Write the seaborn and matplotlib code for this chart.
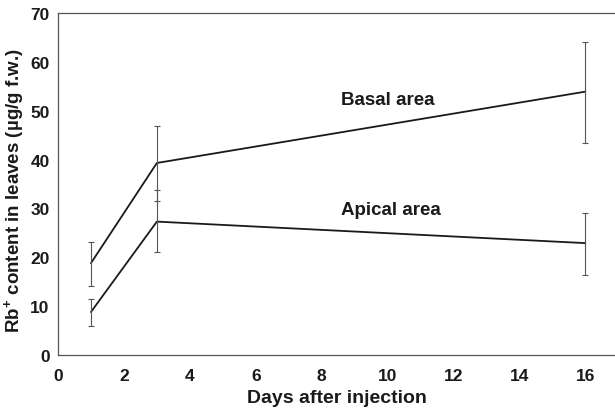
import numpy as np
import pandas as pd
import seaborn as sns
import matplotlib
matplotlib.use("Agg")
import matplotlib.pyplot as plt

# values
days = [1, 3, 16]
basal_mean = [18.8, 39.3, 53.9]
basal_low = [14.1, 31.6, 43.3]
basal_high = [23.2, 46.8, 64.0]
apical_mean = [8.8, 27.3, 22.9]
apical_low = [5.9, 21.1, 16.4]
apical_high = [11.5, 33.7, 29.1]

x_ticks = [0, 2, 4, 6, 8, 10, 12, 14, 16]
y_ticks = [0, 10, 20, 30, 40, 50, 60, 70]

sns.set_style("white")
plt.rcParams["font.family"] = ["Liberation Sans", "DejaVu Sans"]
plt.rcParams["mathtext.fontset"] = "custom"
plt.rcParams["mathtext.rm"] = "Liberation Sans"
plt.rcParams["mathtext.bf"] = "Liberation Sans:bold"

df = pd.DataFrame({
    "day": days * 2,
    "value": basal_mean + apical_mean,
    "area": ["Basal area"] * 3 + ["Apical area"] * 3,
})

fig = plt.figure(figsize=(6.15, 4.1), dpi=100)
ax = fig.add_axes([0.0943, 0.1317, 0.9057, 0.8342])

sns.lineplot(data=df, x="day", y="value", units="area", estimator=None,
             color="#1a1a1a", linewidth=1.3, ax=ax, legend=False)

for mean, low, high in [(basal_mean, basal_low, basal_high),
                        (apical_mean, apical_low, apical_high)]:
    mean = np.array(mean)
    yerr = [mean - np.array(low), np.array(high) - mean]
    ax.errorbar(days, mean, yerr=yerr, fmt="none", ecolor="#555555",
                elinewidth=0.8, capsize=2.5, capthick=0.8)

ax.text(10.0, 52.2, "Basal area", ha="center", va="center",
        fontsize=13.5, fontweight="bold", color="#1a1a1a")
ax.text(10.1, 29.7, "Apical area", ha="center", va="center",
        fontsize=13.5, fontweight="bold", color="#1a1a1a")

ax.set_xlim(0, 16.9)
ax.set_ylim(0, 70)
ax.set_xticks(x_ticks)
ax.set_xticks(range(0, 17), minor=True)
ax.set_yticks(y_ticks)
ax.tick_params(axis="both", direction="in", length=5, width=0.8,
               colors="#333333", labelcolor="#1a1a1a", labelsize=12.5)
ax.tick_params(axis="x", which="minor", direction="in", length=5, width=0.8,
               colors="#333333")
ax.tick_params(axis="x", pad=9)
ax.tick_params(axis="y", pad=6)
for lbl in ax.get_xticklabels() + ax.get_yticklabels():
    lbl.set_fontweight("bold")

ax.spines["right"].set_visible(False)
for s in ["left", "bottom", "top"]:
    ax.spines[s].set_color("#555555")
    ax.spines[s].set_linewidth(0.9)

ax.set_xlabel("Days after injection", fontsize=14, fontweight="bold",
              color="#1a1a1a", labelpad=5)
ax.set_ylabel(r"Rb$^{\mathbf{+}}$ content in leaves (µg/g f.w.)", fontsize=13.5,
              fontweight="bold", color="#1a1a1a")
ax.yaxis.set_label_coords(-0.056, 0.485)

fig.savefig("out.png", dpi=100)
